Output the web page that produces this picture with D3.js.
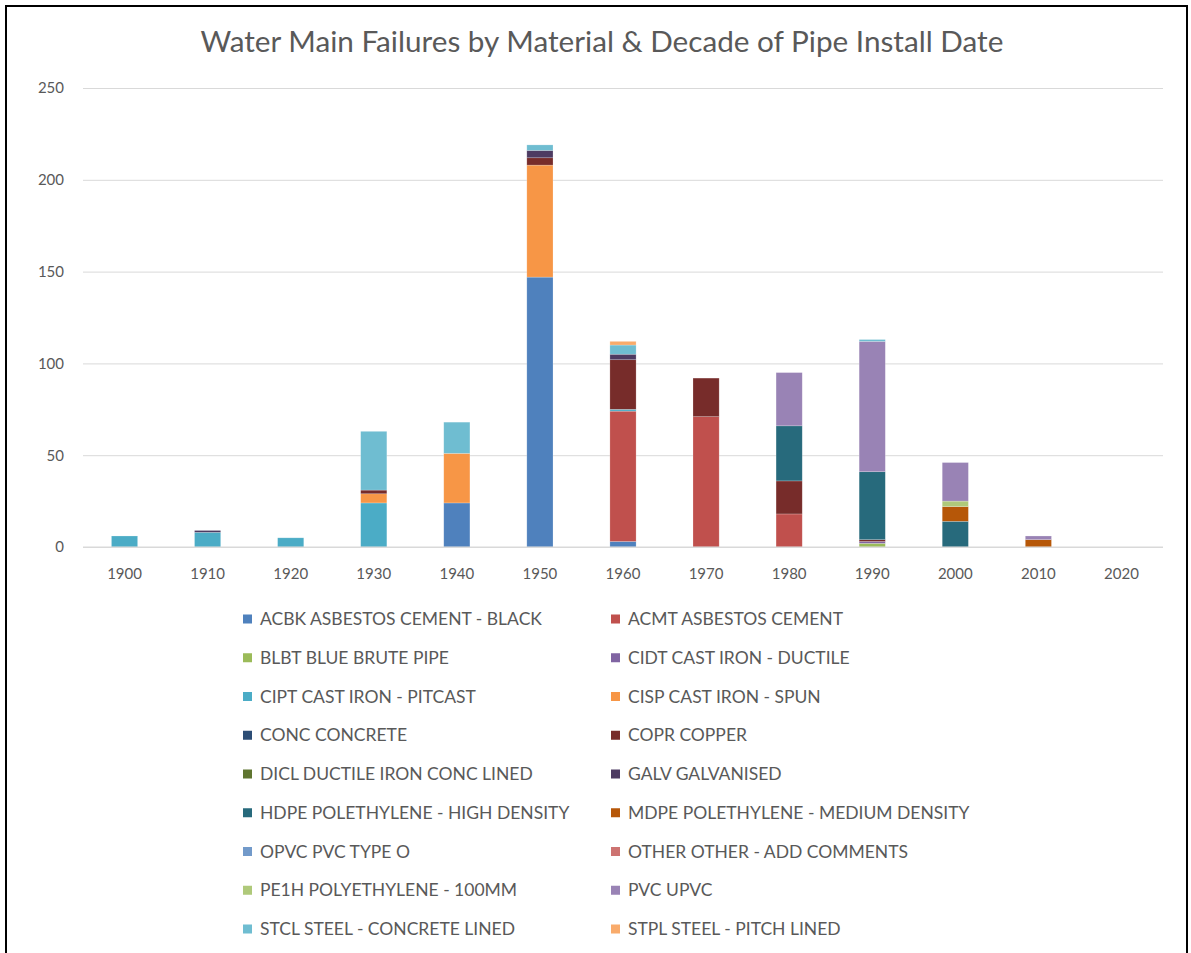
<!DOCTYPE html>
<html><head><meta charset="utf-8">
<script src="https://cdn.jsdelivr.net/npm/d3@7/dist/d3.min.js"></script>
<style>body{margin:0;background:#fff;} text{font-family:Lato, "Open Sans", sans-serif;}</style>
</head><body>
<svg id="chart" width="1191" height="953"></svg>
<script>
const decades = ["1900","1910","1920","1930","1940","1950","1960","1970","1980","1990","2000","2010","2020"];
const yTicks = [0,50,100,150,200,250];
const seriesNames = [
 "ACBK ASBESTOS CEMENT - BLACK","ACMT ASBESTOS CEMENT","BLBT BLUE BRUTE PIPE","CIDT CAST IRON - DUCTILE",
 "CIPT CAST IRON - PITCAST","CISP CAST IRON - SPUN","CONC CONCRETE","COPR COPPER",
 "DICL DUCTILE IRON CONC LINED","GALV GALVANISED","HDPE POLETHYLENE - HIGH DENSITY","MDPE POLETHYLENE - MEDIUM DENSITY",
 "OPVC PVC TYPE O","OTHER OTHER - ADD COMMENTS","PE1H POLYETHYLENE - 100MM","PVC UPVC",
 "STCL STEEL - CONCRETE LINED","STPL STEEL - PITCH LINED"];
const ACBK  = [0,0,0,0,24,147,3,0,0,0,0,0,0];
const ACMT  = [0,0,0,0,0,0,71,71,18,0,0,0,0];
const BLBT  = [0,0,0,0,0,0,0,0,0,2,0,0,0];
const CIDT  = [0,0,0,0,0,0,0,0,0,1,0,0,0];
const CIPT  = [6,8,5,24,0,0,1,0,0,0,0,0,0];
const CISP  = [0,0,0,5,27,61,0,0,0,0,0,0,0];
const CONC  = [0,0,0,0,0,0,0,0,0,0,0,0,0];
const COPR  = [0,0,0,2,0,4,27,21,18,1,0,0,0];
const DICL  = [0,0,0,0,0,0,0,0,0,0,0,0,0];
const GALV  = [0,1,0,0,0,4,3,0,0,0,0,0,0];
const HDPE  = [0,0,0,0,0,0,0,0,30,37,14,0,0];
const MDPE  = [0,0,0,0,0,0,0,0,0,0,8,4,0];
const OPVC  = [0,0,0,0,0,0,0,0,0,0,0,0,0];
const OTHER = [0,0,0,0,0,0,0,0,0,0,0,0,0];
const PE1H  = [0,0,0,0,0,0,0,0,0,0,3,0,0];
const PVC   = [0,0,0,0,0,0,0,0,29,71,21,2,0];
const STCL  = [0,0,0,32,17,3,5,0,0,1,0,0,0];
const STPL  = [0,0,0,0,0,0,2,0,0,0,0,0,0];
const seriesValues = [ACBK,ACMT,BLBT,CIDT,CIPT,CISP,CONC,COPR,DICL,GALV,HDPE,MDPE,OPVC,OTHER,PE1H,PVC,STCL,STPL];
const colors = ["#4F81BD","#C0504D","#9BBB59","#8064A2","#4BACC6","#F79646","#2C4D75","#772C2A",
 "#5F7530","#4D3B62","#276A7C","#B65708","#729ACA","#CD7371","#AFC97A","#9983B5","#6FBDD1","#F9AB6B"];

const rows = decades.map((d,i)=>{const o={decade:d}; seriesNames.forEach((s,j)=>o[s]=seriesValues[j][i]); return o;});
const stack = d3.stack().keys(seriesNames)(rows);

const svg = d3.select("#chart");
svg.append("rect").attr("x",6).attr("y",6).attr("width",1181).attr("height",960)
  .attr("fill","#fff").attr("stroke","#000").attr("stroke-width",2);

svg.append("text").attr("x",602).attr("y",52).attr("text-anchor","middle")
  .attr("font-size",29.7).attr("fill","#595959")
  .text("Water Main Failures by Material & Decade of Pipe Install Date");

const x = d3.scaleBand().domain(decades).range([83,1163]).paddingInner(0.685).paddingOuter(0.3425);
const y = d3.scaleLinear().domain([0,250]).range([547,88]);

const grid = svg.append("g").attr("transform","translate(83,0)")
  .call(d3.axisLeft(y).tickValues(yTicks).tickSize(-1080).tickFormat(""));
grid.select(".domain").remove();
grid.selectAll("line").attr("stroke","#d9d9d9").attr("stroke-width",1);

const ya = svg.append("g").attr("transform","translate(64,0)")
  .call(d3.axisLeft(y).tickValues(yTicks).tickSize(0).tickPadding(0));
ya.select(".domain").remove();
ya.selectAll("text").attr("font-size",15).attr("fill","#595959").attr("font-family","Lato, sans-serif");

const xa = svg.append("g").attr("transform","translate(0,547)")
  .call(d3.axisBottom(x).tickSize(0).tickPadding(21));
xa.select(".domain").remove();
xa.selectAll("text").attr("font-size",15).attr("fill","#595959").attr("font-family","Lato, sans-serif");

svg.append("g").selectAll("g").data(stack).join("g")
  .attr("fill",(d,i)=>colors[i])
  .selectAll("rect").data(d=>d.filter(p=>p[1]>p[0])).join("rect")
  .attr("x",p=>x(p.data.decade)).attr("width",x.bandwidth())
  .attr("y",p=>y(p[1])).attr("height",p=>y(p[0])-y(p[1]))
  .attr("stroke","#fff").attr("stroke-opacity",0.35).attr("stroke-width",0.6);

svg.append("line").attr("x1",83).attr("x2",1163).attr("y1",y(0)).attr("y2",y(0))
  .attr("stroke","#d9d9d9").attr("stroke-width",1);

const leg = svg.append("g");
seriesNames.forEach((s,i)=>{
  const col = i%2, row = Math.floor(i/2);
  const gx = col===0 ? 243 : 611, gy = 619 + row*38.75;
  leg.append("rect").attr("x",gx).attr("y",gy-4.5).attr("width",9).attr("height",9).attr("fill",colors[i]);
  leg.append("text").attr("x",gx+17).attr("y",gy+6).attr("font-size",17.5).attr("fill","#595959")
    .attr("font-family","Lato, sans-serif").text(s);
});
</script>
</body></html>
